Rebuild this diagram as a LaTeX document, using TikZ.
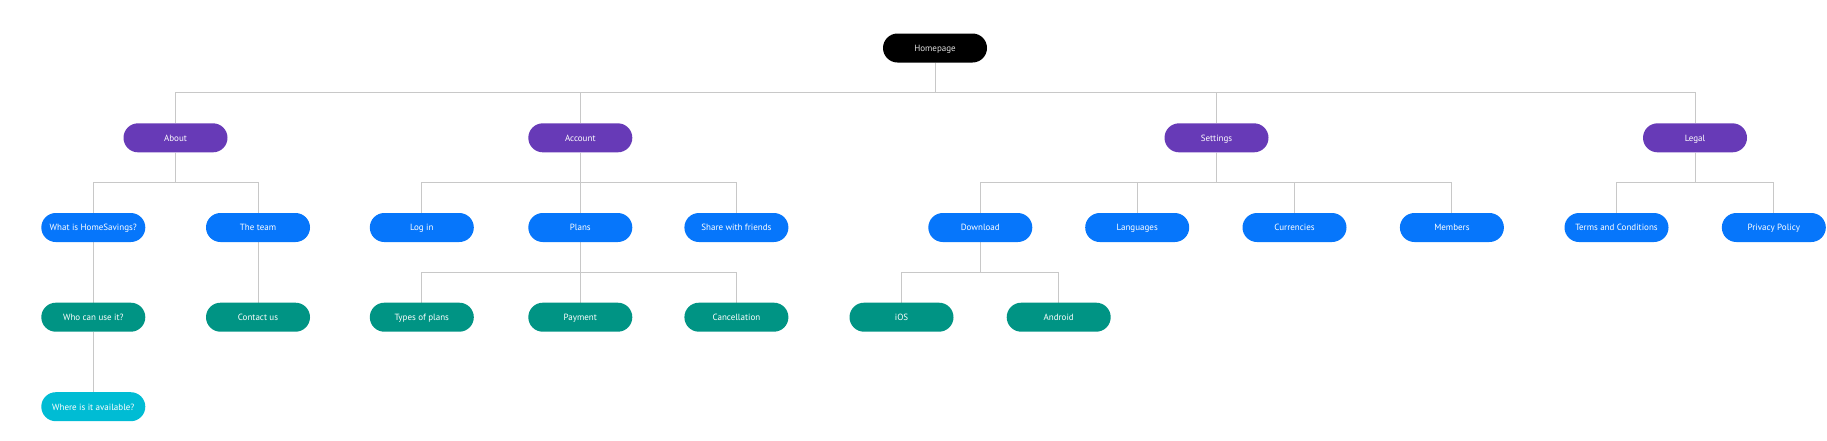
\documentclass[tikz,border=0pt]{standalone}
\usepackage{fontspec}
\setmainfont{PT Sans}
\usetikzlibrary{backgrounds}
\definecolor{secpurple}{HTML}{673AB7}
\definecolor{pgblue}{HTML}{0676FB}
\definecolor{subteal}{HTML}{009484}
\definecolor{leafcyan}{HTML}{00BCD4}
\definecolor{linegray}{HTML}{C8C8C8}
\begin{document}
\begin{tikzpicture}[x=1pt,y=-1pt,
 box/.style={rounded corners=14.5pt, minimum width=104pt, minimum height=29pt, text=white, font=\fontsize{9}{10}\selectfont, inner sep=0pt, text height=7.6pt, text depth=0.8pt},
 home/.style={box, fill=black, text=white!88!black},
 sec/.style={box, fill=secpurple},
 pg/.style={box, fill=pgblue},
 sub/.style={box, fill=subteal},
 leaf/.style={box, fill=leafcyan},
 conn/.style={draw=linegray, line width=1pt}]
\useasboundingbox (0,0) rectangle (1827,440);
% level 0
\node[home] (home) at (935,48) {Homepage};
% level 1
\node[sec] (about) at (175.5,137.8) {About};
\node[sec] (account) at (580.3,137.8) {Account};
\node[sec] (settings) at (1216.5,137.8) {Settings};
\node[sec] (legal) at (1695,137.8) {Legal};
% level 2
\node[pg] (what) at (93.3,227.5) {What is HomeSavings?};
\node[pg] (team) at (258,227.5) {The team};
\node[pg] (login) at (421.8,227.5) {Log in};
\node[pg] (plans) at (580.3,227.5) {Plans};
\node[pg] (share) at (736.4,227.5) {Share with friends};
\node[pg] (download) at (980.3,227.5) {Download};
\node[pg] (languages) at (1137.2,227.5) {Languages};
\node[pg] (currencies) at (1294.5,227.5) {Currencies};
\node[pg] (members) at (1451.9,227.5) {Members};
\node[pg] (terms) at (1616.5,227.5) {Terms and Conditions};
\node[pg] (privacy) at (1773.8,227.5) {Privacy Policy};
% level 3
\node[sub] (who) at (93.3,317.2) {Who can use it?};
\node[sub] (contact) at (258,317.2) {Contact us};
\node[sub] (types) at (421.8,317.2) {Types of plans};
\node[sub] (payment) at (580.3,317.2) {Payment};
\node[sub] (cancel) at (736.4,317.2) {Cancellation};
\node[sub] (ios) at (901.5,317.2) {iOS};
\node[sub] (android) at (1058.7,317.2) {Android};
% level 4
\node[leaf] (where) at (93.3,406.7) {Where is it available?};
% connectors
\begin{scope}[on background layer]
\foreach \c in {about,account,settings,legal}
  \draw[conn] (home.south) -- (home.south |- 0,92.5) -| (\c.north);
\foreach \c in {what,team}
  \draw[conn] (about.south) -- (about.south |- 0,182.7) -| (\c.north);
\foreach \c in {login,plans,share}
  \draw[conn] (account.south) -- (account.south |- 0,182.7) -| (\c.north);
\foreach \c in {download,languages,currencies,members}
  \draw[conn] (settings.south) -- (settings.south |- 0,182.7) -| (\c.north);
\foreach \c in {terms,privacy}
  \draw[conn] (legal.south) -- (legal.south |- 0,182.7) -| (\c.north);
\foreach \c in {types,payment,cancel}
  \draw[conn] (plans.south) -- (plans.south |- 0,272.4) -| (\c.north);
\foreach \c in {ios,android}
  \draw[conn] (download.south) -- (download.south |- 0,272.4) -| (\c.north);
\draw[conn] (what) -- (who);
\draw[conn] (team) -- (contact);
\draw[conn] (who) -- (where);
\end{scope}
\end{tikzpicture}
\end{document}
